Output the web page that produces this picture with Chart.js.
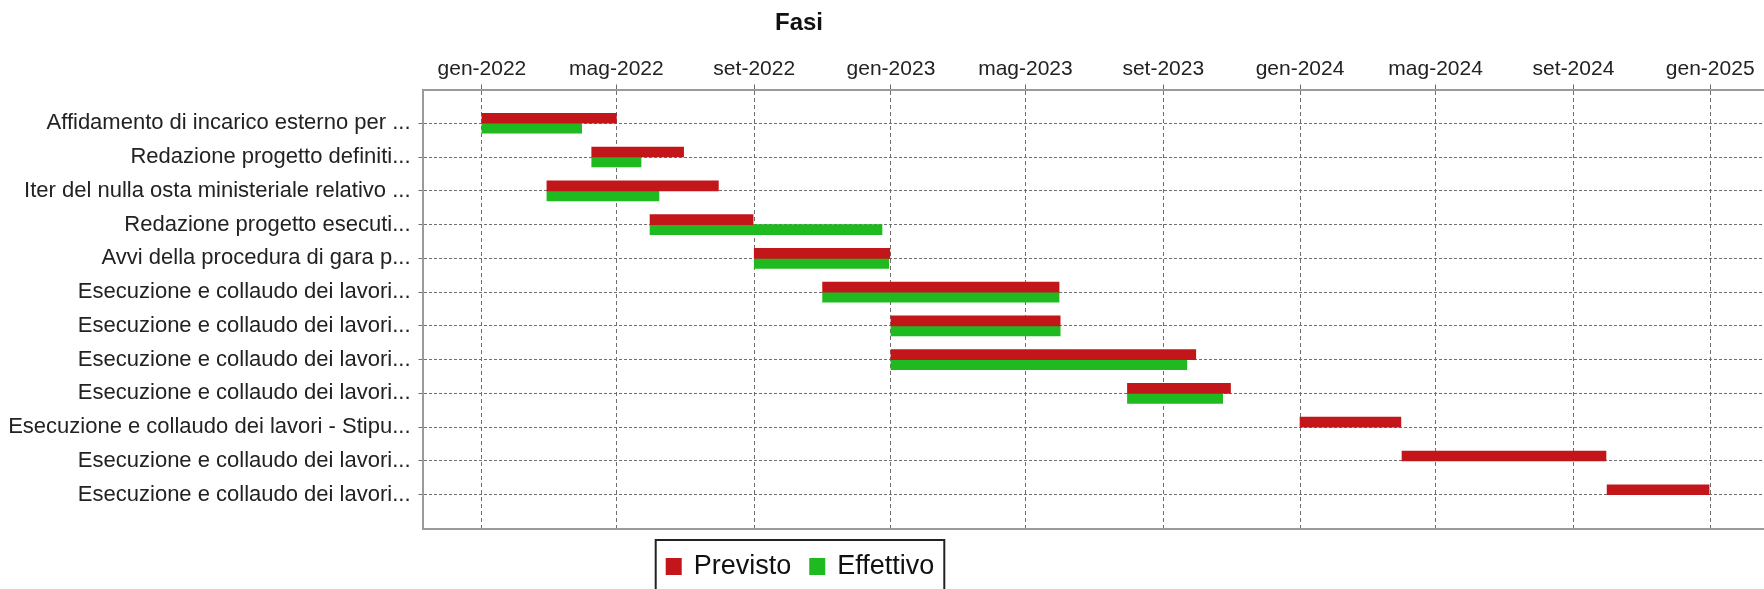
<!DOCTYPE html>
<html>
<head>
<meta charset="utf-8">
<script src="https://cdn.jsdelivr.net/npm/chart.js@4/dist/chart.umd.min.js"></script>
<style>
  html, body { margin: 0; padding: 0; background: #ffffff; }
  #wrap { position: relative; width: 1764px; height: 589px; }
</style>
</head>
<body>
<div id="wrap"><canvas id="c"></canvas></div>
<script>
// ---- data ----
const chartTitle = 'Fasi';
const categories = [
  'Affidamento di incarico esterno per ...',
  'Redazione progetto definiti...',
  'Iter del nulla osta ministeriale relativo ...',
  'Redazione progetto esecuti...',
  'Avvi della procedura di gara p...',
  'Esecuzione e collaudo dei lavori...',
  'Esecuzione e collaudo dei lavori...',
  'Esecuzione e collaudo dei lavori...',
  'Esecuzione e collaudo dei lavori...',
  'Esecuzione e collaudo dei lavori - Stipu...',
  'Esecuzione e collaudo dei lavori...',
  'Esecuzione e collaudo dei lavori...'
];
const seriesNames = ['Previsto', 'Effettivo'];
const plannedStart = ['2022-01-01','2022-04-09','2022-02-28','2022-05-31','2022-09-01','2022-11-01','2023-01-01','2023-01-01','2023-07-31','2024-01-01','2024-04-01','2024-10-01'];
const plannedEnd   = ['2022-05-01','2022-06-30','2022-07-31','2022-08-31','2022-12-31','2023-05-31','2023-06-01','2023-09-30','2023-10-31','2024-03-31','2024-09-30','2024-12-31'];
const actualStart  = ['2022-01-01','2022-04-09','2022-02-28','2022-05-31','2022-09-01','2022-11-01','2023-01-01','2023-01-01','2023-07-31'];
const actualEnd    = ['2022-03-31','2022-05-23','2022-06-08','2022-12-24','2022-12-30','2023-05-31','2023-06-01','2023-09-22','2023-10-24'];
const tickDates  = ['2022-01-01','2022-05-01','2022-09-01','2023-01-01','2023-05-01','2023-09-01','2024-01-01','2024-05-01','2024-09-01','2025-01-01'];
const tickLabels = ['gen-2022','mag-2022','set-2022','gen-2023','mag-2023','set-2023','gen-2024','mag-2024','set-2024','gen-2025'];
const axisStart = '2021-11-09';
const axisEnd   = '2025-02-18';

// ---- build ----
const ms = d => Date.parse(d);
const plannedData = plannedStart.map((s, i) => ({ y: i, x: [ms(s), ms(plannedEnd[i])] }));
const actualData  = actualStart.map((s, i) => ({ y: i, x: [ms(s), ms(actualEnd[i])] }));
const RED = '#c2161b', GREEN = '#1fba1f';
const FONT = "'Liberation Sans', Arial, sans-serif";
const isRow = v => Number.isInteger(v) && v >= 0 && v < categories.length;

const overlayPlugin = {
  id: 'overlay',
  afterDraw(chart) {
    const ctx = chart.ctx;
    ctx.save();
    // title
    ctx.fillStyle = '#111';
    ctx.font = 'bold 24px ' + FONT;
    ctx.textAlign = 'center';
    ctx.textBaseline = 'middle';
    ctx.fillText(chartTitle, 799, 23);
    // legend
    ctx.font = '27px ' + FONT;
    const ds = chart.data.datasets;
    const sq = 16, gapSq = 12, gapItem = 18, padX = 10;
    const widths = ds.map(d => ctx.measureText(d.label).width);
    let total = 0;
    ds.forEach((d, i) => { total += sq + gapSq + widths[i]; if (i < ds.length - 1) total += gapItem; });
    const boxW = total + padX * 2;
    const cx = 800;
    const boxL = cx - boxW / 2;
    const boxT = 540, cy = 566;
    ctx.strokeStyle = '#222';
    ctx.lineWidth = 2;
    ctx.strokeRect(boxL, boxT, boxW, 70);
    let x = boxL + padX;
    ctx.textAlign = 'left';
    ds.forEach((d, i) => {
      ctx.fillStyle = d.backgroundColor;
      ctx.fillRect(x, cy - 8, sq, 17);
      x += sq + gapSq;
      ctx.fillStyle = '#111';
      ctx.fillText(d.label, x, cy + 1);
      x += widths[i] + gapItem;
    });
    ctx.restore();
  }
};

new Chart(document.getElementById('c'), {
  type: 'bar',
  data: {
    datasets: [
      { label: seriesNames[0], data: plannedData, backgroundColor: RED, barThickness: 10 },
      { label: seriesNames[1], data: actualData, backgroundColor: GREEN, barThickness: 10 }
    ]
  },
  options: {
    indexAxis: 'y',
    responsive: true,
    maintainAspectRatio: false,
    animation: false,
    layout: { padding: { top: 0, left: 0, right: 0, bottom: 60.5 } },
    plugins: { legend: { display: false }, title: { display: false }, tooltip: { enabled: false } },
    scales: {
      x: {
        type: 'linear',
        position: 'top',
        min: ms(axisStart),
        max: ms(axisEnd),
        afterBuildTicks: scale => { scale.ticks = tickDates.map(d => ({ value: ms(d) })); },
        afterFit: scale => { scale.height = 89.5; },
        ticks: {
          autoSkip: false,
          maxRotation: 0,
          padding: 3,
          color: '#222',
          font: { family: FONT, size: 21 },
          callback: (v, i) => tickLabels[i]
        },
        grid: { color: '#6e6e6e', lineWidth: 1, tickLength: 5, tickColor: '#6e6e6e' },
        border: { display: true, color: '#9a9a9a', width: 2, dash: [4, 3] }
      },
      x2: {
        type: 'linear',
        position: 'bottom',
        min: ms(axisStart),
        max: ms(axisEnd),
        afterFit: scale => { scale.height = 0; },
        ticks: { display: false },
        grid: { display: false, drawTicks: false },
        border: { display: true, color: '#9a9a9a', width: 2 }
      },
      y: {
        type: 'linear',
        reverse: true,
        offset: false,
        min: -1,
        max: 12,
        afterFit: scale => { scale.width = 422.5; },
        ticks: {
          stepSize: 1,
          autoSkip: false,
          padding: 8,
          color: '#222',
          font: { family: FONT, size: 22 },
          callback: v => isRow(v) ? categories[v] : ''
        },
        grid: {
          offset: false,
          color: c => (c.tick && isRow(c.tick.value)) ? '#707070' : 'rgba(0,0,0,0)',
          tickColor: c => (c.tick && isRow(c.tick.value)) ? '#707070' : 'rgba(0,0,0,0)',
          lineWidth: 1,
          tickLength: 4
        },
        border: { display: true, color: '#9a9a9a', width: 2, dash: [3, 2] }
      }
    }
  },
  plugins: [overlayPlugin]
});
</script>
</body>
</html>
